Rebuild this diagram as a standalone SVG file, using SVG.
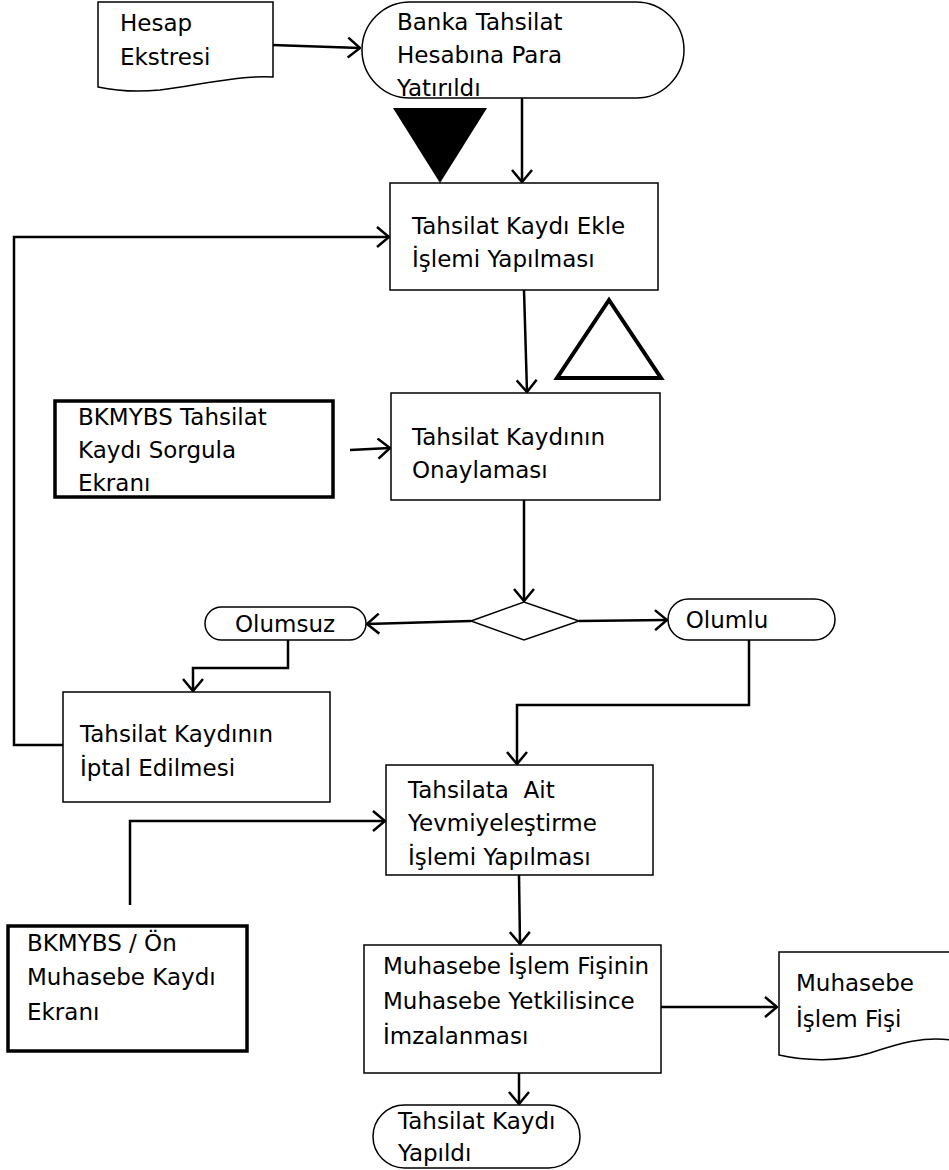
<svg xmlns="http://www.w3.org/2000/svg" width="949" height="1170" viewBox="0 0 949 1170">
<style>
.t{font-family:"DejaVu Sans","Liberation Sans",sans-serif;font-size:23px;fill:#000}
.s{fill:#fff;stroke:#000;stroke-width:1.5}
.k{fill:#fff;stroke:#000;stroke-width:3.5}
.c{fill:none;stroke:#000;stroke-width:2.5}
</style>
<defs>
<marker id="a" viewBox="0 0 14 22" refX="13" refY="11" markerWidth="14" markerHeight="22" markerUnits="userSpaceOnUse" orient="auto">
<path d="M1,1 L13,11 L1,21" fill="none" stroke="#000" stroke-width="2.5"/>
</marker>
</defs>
<rect width="949" height="1170" fill="#fff"/>
<g id="connectors">
<path class="c" d="M272,45 L360,48" marker-end="url(#a)"/>
<path class="c" d="M522,98 L522,182" marker-end="url(#a)"/>
<path class="c" d="M63,745 H14 V237 H389" marker-end="url(#a)"/>
<path class="c" d="M524,290 L527,392" marker-end="url(#a)"/>
<path class="c" d="M350,450 L390,448" marker-end="url(#a)"/>
<path class="c" d="M524,500 V601" marker-end="url(#a)"/>
<path class="c" d="M471,621 L367,624" marker-end="url(#a)"/>
<path class="c" d="M579,621 L667,620" marker-end="url(#a)"/>
<path class="c" d="M288,640 V668 H193 V691" marker-end="url(#a)"/>
<path class="c" d="M749,640 V705 H517 V764" marker-end="url(#a)"/>
<path class="c" d="M130,905 V821 H385" marker-end="url(#a)"/>
<path class="c" d="M519,875 L520,944" marker-end="url(#a)"/>
<path class="c" d="M661,1007 H777" stroke-width="3.5" marker-end="url(#a)"/>
<path class="c" d="M519,1073 V1104" marker-end="url(#a)"/>
</g>
<g id="hesap-ekstresi">
<path class="s" d="M98,2 H273 V77 C240,75 200,85 160,90 C130,93 112,90 98,87 Z"/>
<text class="t" x="120" y="31">Hesap</text>
<text class="t" x="120" y="65">Ekstresi</text>
</g>
<g id="banka-tahsilat">
<rect class="s" x="362" y="2" width="322" height="96" rx="48" ry="48"/>
<text class="t" x="397" y="30">Banka Tahsilat</text>
<text class="t" x="397" y="63">Hesabına Para</text>
<text class="t" x="397" y="96">Yatırıldı</text>
</g>
<g id="black-triangle">
<polygon points="393,108 487,108 440,183" fill="#000"/>
</g>
<g id="tahsilat-ekle">
<rect class="s" x="390" y="183" width="268" height="107"/>
<text class="t" x="412" y="234">Tahsilat Kaydı Ekle</text>
<text class="t" x="412" y="267">İşlemi Yapılması</text>
</g>
<g id="hollow-triangle">
<polygon points="557,378 661,378 609,300" fill="#fff" stroke="#000" stroke-width="4"/>
</g>
<g id="bkmybs-sorgula">
<rect class="k" x="55" y="401" width="278" height="96"/>
<text class="t" x="78" y="425">BKMYBS Tahsilat</text>
<text class="t" x="78" y="458">Kaydı Sorgula</text>
<text class="t" x="78" y="491">Ekranı</text>
</g>
<g id="onaylama">
<rect class="s" x="391" y="393" width="269" height="107"/>
<text class="t" x="412" y="445">Tahsilat Kaydının</text>
<text class="t" x="412" y="478">Onaylaması</text>
</g>
<g id="karar">
<polygon class="s" points="471,621 524,602 579,621 524,640"/>
</g>
<g id="olumsuz">
<rect class="s" x="205" y="607" width="161" height="33" rx="16.5" ry="16.5"/>
<text class="t" x="285" y="632" text-anchor="middle">Olumsuz</text>
</g>
<g id="olumlu">
<rect class="s" x="668" y="599" width="167" height="41" rx="20.5" ry="20.5"/>
<text class="t" x="727" y="628" text-anchor="middle">Olumlu</text>
</g>
<g id="iptal">
<rect class="s" x="63" y="692" width="267" height="110"/>
<text class="t" x="80" y="742">Tahsilat Kaydının</text>
<text class="t" x="80" y="776">İptal Edilmesi</text>
</g>
<g id="yevmiye">
<rect class="s" x="386" y="765" width="267" height="110"/>
<text class="t" x="408" y="798" xml:space="preserve">Tahsilata  Ait</text>
<text class="t" x="408" y="831">Yevmiyeleştirme</text>
<text class="t" x="408" y="865">İşlemi Yapılması</text>
</g>
<g id="bkmybs-on">
<rect class="k" x="8" y="926" width="239" height="125"/>
<text class="t" x="27" y="951">BKMYBS / Ön</text>
<text class="t" x="27" y="985">Muhasebe Kaydı</text>
<text class="t" x="27" y="1020">Ekranı</text>
</g>
<g id="imza">
<rect class="s" x="364" y="945" width="297" height="128"/>
<text class="t" x="383" y="974">Muhasebe İşlem Fişinin</text>
<text class="t" x="383" y="1009">Muhasebe Yetkilisince</text>
<text class="t" x="383" y="1044">İmzalanması</text>
</g>
<g id="muhasebe-fisi">
<path class="s" d="M779,952 H951 V1040 C925,1036 900,1043 870,1053 C840,1062 805,1061 779,1055 Z"/>
<text class="t" x="796" y="991">Muhasebe</text>
<text class="t" x="796" y="1027">İşlem Fişi</text>
</g>
<g id="tahsilat-yapildi">
<rect class="s" x="373" y="1105" width="207" height="63" rx="31.5" ry="31.5"/>
<text class="t" x="398" y="1129">Tahsilat Kaydı</text>
<text class="t" x="398" y="1161">Yapıldı</text>
</g>
</svg>
